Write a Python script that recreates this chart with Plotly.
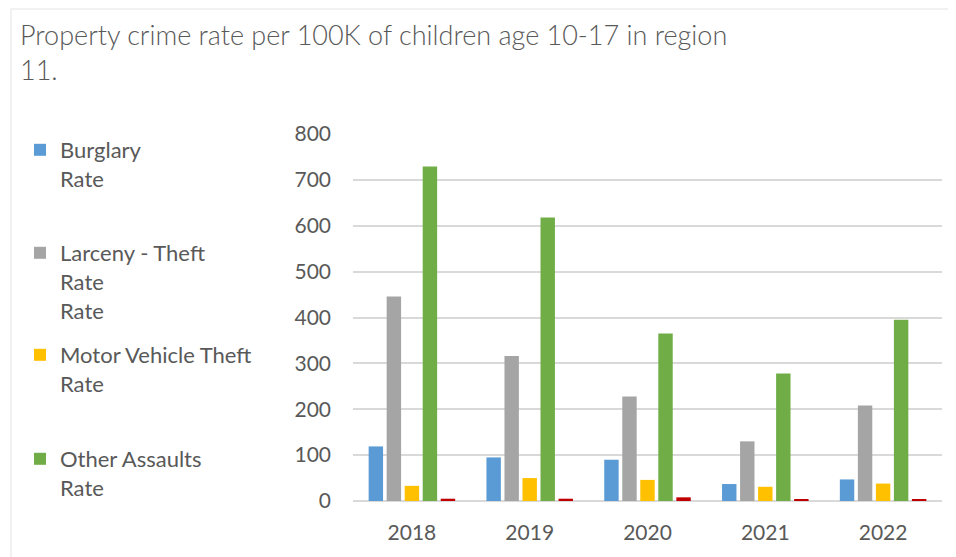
import plotly.graph_objects as go

years = ["2018", "2019", "2020", "2021", "2022"]
burglary = [119, 95, 90, 37, 47]
larceny = [446, 316, 228, 130, 208]
motor_vehicle = [33, 50, 46, 31, 38]
other_assaults = [729, 618, 365, 278, 395]
arson = [5, 5, 8, 3, 3]

series_names = ["Burglary<br>Rate", "Larceny - Theft<br>Rate<br>Rate",
                "Motor Vehicle Theft<br>Rate", "Other Assaults<br>Rate", "Arson Rate"]
series_values = [burglary, larceny, motor_vehicle, other_assaults, arson]
colors = ["#5B9BD5", "#A5A5A5", "#FFC000", "#70AD47", "#C00000"]
legend_ids = ["legend", "legend2", "legend3", "legend4", None]
legend_tops = [121, 224, 326, 430]

# page has an 8px body margin, so the figure is 8px smaller than the window
W, H = 948, 549
FONT = "Lato"
TXT = "#595959"
ML, MR, MT, MB = 345, 14, 126, 56
PW, PH = W - ML - MR, H - MT - MB

fig = go.Figure()
for name, vals, col, lg in zip(series_names, series_values, colors, legend_ids):
    kw = dict(x=years, y=vals, name=name, marker=dict(color=col, line=dict(width=0)))
    if lg is None:
        kw["showlegend"] = False
    else:
        kw["legend"] = lg
    fig.add_trace(go.Bar(**kw))

legend_cfg = {}
for lg, top in zip(legend_ids[:4], legend_tops):
    legend_cfg[lg] = dict(
        xref="container", yref="container",
        x=12 / W, y=1 - top / H, xanchor="left", yanchor="top",
        font=dict(family=FONT, size=22, color=TXT),
        bgcolor="rgba(0,0,0,0)", valign="top", tracegroupgap=0,
    )

fig.update_layout(
    width=W, height=H,
    margin=dict(l=ML, r=MR, t=MT, b=MB),
    paper_bgcolor="white", plot_bgcolor="white",
    barmode="group", bargap=0.235, bargroupgap=0.2,
    title=dict(
        text="Property crime rate per 100K of children age 10-17 in region<br>11.",
        x=12 / W, xref="container", xanchor="left",
        y=1 - 37 / H, yref="container", yanchor="top",
        font=dict(family=FONT, size=27, color=TXT, weight=300),
    ),
    xaxis=dict(
        type="category", showgrid=False, showline=False, ticks="",
        tickfont=dict(family=FONT, size=21, color=TXT),
        ticklabelstandoff=17,
    ),
    yaxis=dict(
        range=[0, 800], dtick=100, showgrid=True, gridcolor="#D9D9D9", gridwidth=1.5,
        zeroline=True, zerolinecolor="#D9D9D9", zerolinewidth=2,
        showline=False, ticks="",
        tickfont=dict(family=FONT, size=21, color=TXT),
        ticklabelstandoff=21,
    ),
    shapes=[dict(type="rect", xref="paper", yref="paper", layer="below",
                 x0=-(ML - 3) / PW, x1=(W + 20 - ML) / PW,
                 y0=-(MB + 20) / PH, y1=1 + (MT - 1) / PH,
                 line=dict(color="#EDEDED", width=1.5), fillcolor="rgba(0,0,0,0)")],
    **legend_cfg,
)

fig.write_html("out.html")
